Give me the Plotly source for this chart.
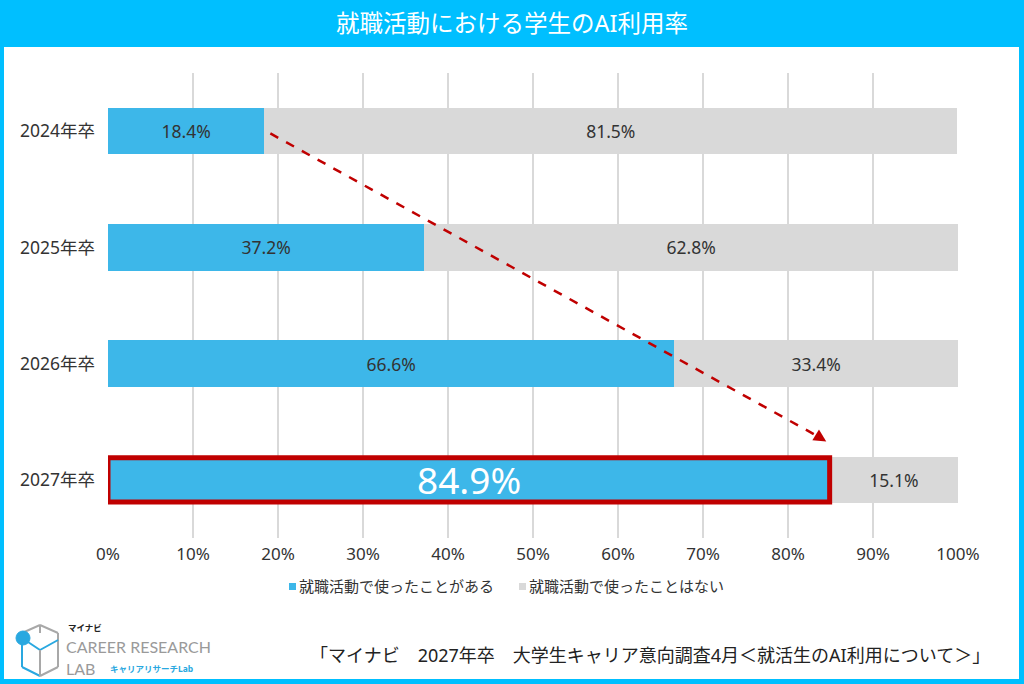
import plotly.graph_objects as go

# ---- data ----
categories = ["2024年卒", "2025年卒", "2026年卒", "2027年卒"]
used = [18.4, 37.2, 66.6, 84.9]
not_used = [81.5, 62.8, 33.4, 15.1]
series_names = ["就職活動で使ったことがある", "就職活動で使ったことはない"]
x_ticks = list(range(0, 101, 10))
title_text = "就職活動における学生のAI利用率"
source_text = "「マイナビ　2027年卒　大学生キャリア意向調査4月＜就活生のAI利用について＞」"

W, H = 1024, 684
L, R, T, B = 108, 66, 73, 146
PW, PH = W - L - R, H - T - B
FONT = "Noto Sans, Noto Sans CJK JP, sans-serif"
BLUE = "#3DB7E9"
GRAY = "#D9D9D9"
CYAN = "#00BFFF"
RED = "#C00000"
TXT = "#333333"


def px(x):
    return (x - L) / PW


def py(y):
    return (H - B - y) / PH


fig = go.Figure()
n = len(categories)
used_text = [f"{v:.1f}%" for v in used[:-1]] + [""]
fig.add_trace(go.Bar(
    y=categories, x=used, orientation="h", name=series_names[0], showlegend=False,
    marker=dict(color=BLUE, line=dict(width=0)),
    text=used_text, textposition="inside",
    insidetextanchor="middle", textangle=0,
    textfont=dict(size=17.5, color=TXT, family=FONT),
    width=0.4,
))
fig.add_trace(go.Bar(
    y=categories, x=not_used, orientation="h", name=series_names[1], showlegend=False,
    marker=dict(color=GRAY, line=dict(width=0)),
    text=[f"{v:.1f}%" for v in not_used], textposition="inside",
    insidetextanchor="middle", textangle=0,
    textfont=dict(size=17.5, color=TXT, family=FONT),
    width=0.4,
))

shapes = []
annotations = []

# highlighted label for the latest year
annotations.append(dict(text=f"{used[-1]:.1f}%", x=used[-1] / 2, y=categories[-1], xref="x", yref="y",
                        showarrow=False, font=dict(size=37, color="white", family=FONT),
                        xanchor="center", yanchor="middle"))

# frame
shapes += [
    dict(type="rect", xref="paper", yref="paper", x0=px(0), x1=px(W), y0=py(0), y1=py(47),
         fillcolor=CYAN, line=dict(width=0), layer="below"),
    dict(type="rect", xref="paper", yref="paper", x0=px(0), x1=px(4), y0=py(0), y1=py(H),
         fillcolor=CYAN, line=dict(width=0), layer="below"),
    dict(type="rect", xref="paper", yref="paper", x0=px(1019), x1=px(W), y0=py(0), y1=py(H),
         fillcolor=CYAN, line=dict(width=0), layer="below"),
    dict(type="rect", xref="paper", yref="paper", x0=px(0), x1=px(W), y0=py(679), y1=py(H),
         fillcolor=CYAN, line=dict(width=0), layer="below"),
]

# highlight box for last category
shapes.append(dict(type="rect", xref="x", yref="y", x0=0, x1=used[-1], y0=n - 1 - 0.19, y1=n - 1 + 0.19,
                   line=dict(color=RED, width=5), fillcolor="rgba(0,0,0,0)", layer="above"))

# dashed trend arrow
x_start, y_start = used[0] + 0.7, 0.02
x_end, y_end = used[-1] - 0.4, n - 1 - 0.33
shapes.append(dict(type="line", xref="x", yref="y", x0=x_start, y0=y_start,
                   x1=x_end - 1.0, y1=y_end - 0.045,
                   line=dict(color=RED, width=2.5, dash="dash"), layer="above"))
annotations.append(dict(x=x_end, y=y_end, xref="x", yref="y", ax=x_end - 1.2, ay=y_end - 0.055,
                        axref="x", ayref="y", showarrow=True, arrowhead=2, arrowsize=1.0,
                        arrowwidth=2.5, arrowcolor=RED, text=""))

# manual legend
legend_items = [(series_names[0], BLUE, 289), (series_names[1], GRAY, 519)]
for name, col, lx in legend_items:
    shapes.append(dict(type="rect", xref="paper", yref="paper", x0=px(lx), x1=px(lx + 7),
                       y0=py(590), y1=py(583), fillcolor=col, line=dict(width=0)))
    annotations.append(dict(text=name, xref="paper", yref="paper", x=px(lx + 8), y=py(586),
                            showarrow=False, font=dict(size=15, color=TXT, family=FONT),
                            xanchor="left", yanchor="middle"))

# title
annotations.append(dict(text=title_text, xref="paper", yref="paper", x=px(W / 2), y=py(23),
                        showarrow=False, font=dict(size=23.5, color="white", family=FONT),
                        xanchor="center", yanchor="middle"))
# source
annotations.append(dict(text=source_text, xref="paper", yref="paper", x=px(992), y=py(655),
                        showarrow=False, font=dict(size=18, color="#222222", family=FONT),
                        xanchor="right", yanchor="middle"))

# logo (text + simple icon)
annotations += [
    dict(text="<b>マイナビ</b>", xref="paper", yref="paper", x=px(66), y=py(627), showarrow=False,
         font=dict(size=8.5, color="#222222", family=FONT), xanchor="left", yanchor="middle"),
    dict(text="CAREER RESEARCH", xref="paper", yref="paper", x=px(64), y=py(646), showarrow=False,
         font=dict(size=16, color="#9A9A9A", family="Lato, Noto Sans, sans-serif"), xanchor="left", yanchor="middle"),
    dict(text="LAB", xref="paper", yref="paper", x=px(64), y=py(668), showarrow=False,
         font=dict(size=16, color="#9A9A9A", family="Lato, Noto Sans, sans-serif"), xanchor="left", yanchor="middle"),
    dict(text="<b>キャリアリサーチLab</b>", xref="paper", yref="paper", x=px(108), y=py(668), showarrow=False,
         font=dict(size=8.5, color="#29A8E0", family=FONT), xanchor="left", yanchor="middle"),
]
# icon: hexagon outline
hexpts = [(40, 625), (58, 633), (58, 667), (40, 676), (22, 667), (22, 633)]
for i in range(len(hexpts)):
    a, b = hexpts[i], hexpts[(i + 1) % len(hexpts)]
    col = "#29A8E0" if i in (3, 4) else "#A8A8A8"
    shapes.append(dict(type="line", xref="paper", yref="paper", x0=px(a[0]), y0=py(a[1]),
                       x1=px(b[0]), y1=py(b[1]), line=dict(color=col, width=2)))
for a, b, col in [((40, 650), (58, 640), "#29A8E0"), ((40, 650), (28, 642), "#29A8E0"),
                  ((40, 650), (40, 676), "#A8A8A8"), ((40, 625), (40, 633), "#A8A8A8")]:
    shapes.append(dict(type="line", xref="paper", yref="paper", x0=px(a[0]), y0=py(a[1]),
                       x1=px(b[0]), y1=py(b[1]), line=dict(color=col, width=2)))
shapes.append(dict(type="circle", xref="paper", yref="paper", x0=px(16), x1=px(30), y0=py(645), y1=py(631),
                   fillcolor="#29A8E0", line=dict(color="#29A8E0", width=1)))

fig.update_layout(
    width=W, height=H,
    margin=dict(l=L, r=R, t=T, b=B, autoexpand=False),
    paper_bgcolor="white", plot_bgcolor="white",
    barmode="stack", bargap=0.6,
    font=dict(family=FONT, color=TXT, size=15),
    showlegend=False,
    shapes=shapes, annotations=annotations,
    uniformtext=dict(mode=False),
)
fig.update_xaxes(range=[0, 100], tickvals=x_ticks, ticktext=[f"{v}%" for v in x_ticks],
                 showgrid=True, gridcolor="#D9D9D9", gridwidth=2, zeroline=False,
                 showline=False, ticks="", tickfont=dict(size=17, color=TXT), ticklabelstandoff=4,
                 fixedrange=True)
fig.update_yaxes(categoryorder="array", categoryarray=categories, range=[n - 0.5, -0.5],
                 showgrid=False, zeroline=False, showline=False, ticks="",
                 tickfont=dict(size=17.5, color=TXT), ticklabelstandoff=12, fixedrange=True)

fig.write_html("out.html", config=dict(displayModeBar=False))
